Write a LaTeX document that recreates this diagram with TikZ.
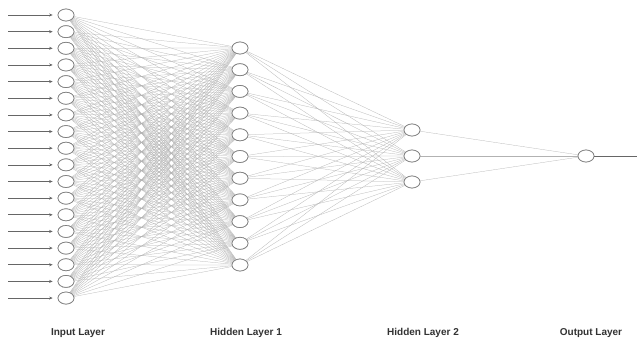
\documentclass[tikz,border=0pt]{standalone}
\usepackage{fontspec}
\setmainfont{Liberation Sans}
\usetikzlibrary{arrows.meta,shapes.geometric}
\begin{document}
\begin{tikzpicture}[x=1pt,y=-1pt,
  neuron/.style={ellipse,draw=black!50,line width=0.7pt,fill=white,minimum width=16pt,minimum height=12pt,inner sep=0pt},
  conn/.style={draw=black!30,line width=0.25pt},
  inarrow/.style={draw=black!60,line width=0.7pt,-{Stealth[length=3.5pt,width=3pt]},shorten >=5pt},
  layerlabel/.style={font=\bfseries\fontsize{10}{12}\selectfont,text=black!80,inner sep=0pt}]
\useasboundingbox[fill=white] (0,0) rectangle (637,340);
% nodes
\foreach \i in {1,...,18} {
  \node[neuron] (i\i) at (66,{15+(\i-1)*16.65}) {};
}
\foreach \j in {1,...,11} {
  \node[neuron] (h\j) at (240,{48+(\j-1)*21.7}) {};
}
\foreach \k in {1,2,3} {
  \node[neuron] (k\k) at (412,{130+(\k-1)*26}) {};
}
\node[neuron] (o) at (586,156) {};
% connections
\foreach \i in {1,...,18} {
  \foreach \j in {1,...,11} {
    \path[conn] (i\i) -- (h\j);
  }
}
\foreach \j in {1,...,11} {
  \foreach \k in {1,2,3} {
    \path[conn] (h\j) -- (k\k);
  }
}
\foreach \k in {1,2,3} {
  \path[conn] (k\k) -- (o);
}
% redraw nodes on top
\foreach \i in {1,...,18} {
  \node[neuron] at (i\i) {};
}
\foreach \j in {1,...,11} {
  \node[neuron] at (h\j) {};
}
\foreach \k in {1,2,3} {
  \node[neuron] at (k\k) {};
}
\node[neuron] at (o) {};
% input arrows
\foreach \i in {1,...,18} {
  \coordinate (s\i) at (8,{15+(\i-1)*16.65});
  \draw[inarrow] (s\i) -- (i\i);
}
% output arrow
\coordinate (out) at (645,156);
\draw[inarrow,shorten >=0pt] (o) -- (out);
% labels
\node[layerlabel] (lin) at (78,333) {Input Layer};
\node[layerlabel] (lh1) at (246,333) {Hidden Layer 1};
\node[layerlabel] (lh2) at (423,333) {Hidden Layer 2};
\node[layerlabel] (lout) at (591,333) {Output Layer};
\end{tikzpicture}
\end{document}
